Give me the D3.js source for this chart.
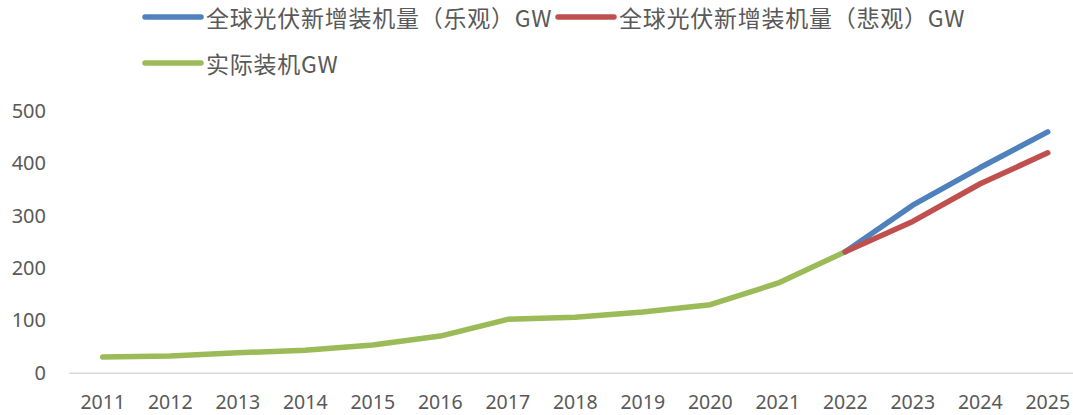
<!DOCTYPE html>
<html>
<head>
<meta charset="utf-8">
<script src="https://cdn.jsdelivr.net/npm/d3@7/dist/d3.min.js"></script>
<style>
html,body{margin:0;padding:0;background:#fff;overflow:hidden;}
svg{display:block;font-family:"Noto Sans CJK SC","Noto Sans",sans-serif;}
</style>
</head>
<body>
<svg id="chart" width="1073" height="415"></svg>
<script>
const years = ["2011","2012","2013","2014","2015","2016","2017","2018","2019","2020","2021","2022","2023","2024","2025"];
const actualYears = ["2011","2012","2013","2014","2015","2016","2017","2018","2019","2020","2021","2022"];
const actualValues = [30,32,38,43,53,70,102,106,116,130,171,231];
const forecastYears = ["2022","2023","2024","2025"];
const optimisticValues = [231,320,392,460];
const pessimisticValues = [231,289,361,420];
const yTicks = [0,100,200,300,400,500];
const seriesNames = ["全球光伏新增装机量（乐观）GW","全球光伏新增装机量（悲观）GW","实际装机GW"];
const colors = ["#4f81bd","#c0504d","#9bbb59"];

const svg = d3.select("#chart");
const x = d3.scaleBand().domain(years).range([69, 1081.5]);
const cx = d => x(d) + x.bandwidth()/2;
const y = d3.scaleLinear().domain([0,500]).range([372.7, 111]);

// y axis labels
const yAxis = d3.axisLeft(y).tickValues(yTicks).tickSize(0).tickPadding(0);
const gy = svg.append("g").attr("transform","translate(46,0)").call(yAxis);
gy.select(".domain").remove();
gy.selectAll("text").attr("fill","#595959").style("font-size","20px").style("font-family","'Noto Sans','Noto Sans CJK SC',sans-serif");

// x axis
const xAxis = d3.axisBottom(x).tickSize(0).tickPadding(0);
const gx = svg.append("g").attr("transform","translate(0,"+y(0)+")").call(xAxis);
gx.select(".domain").attr("stroke","#d9d9d9").attr("stroke-width",1.5);
gx.selectAll("text").attr("fill","#595959").attr("dy","0").attr("y",36.8).style("font-size","19.5px").style("font-family","'Noto Sans','Noto Sans CJK SC',sans-serif");

const line = d3.line().x(d=>cx(d[0])).y(d=>y(d[1]));
function draw(ys, vs, color){
  svg.append("path").datum(ys.map((yr,i)=>[yr,vs[i]]))
    .attr("d", line).attr("fill","none").attr("stroke",color)
    .attr("stroke-width",5.5).attr("stroke-linecap","round").attr("stroke-linejoin","round");
}
draw(actualYears, actualValues, colors[2]);
draw(forecastYears, optimisticValues, colors[0]);
draw(forecastYears, pessimisticValues, colors[1]);

// legend
const legendItems = [
  {name:seriesNames[0], color:colors[0], x:145, y:17},
  {name:seriesNames[1], color:colors[1], x:558, y:17},
  {name:seriesNames[2], color:colors[2], x:145, y:63}
];
const lg = svg.append("g");
legendItems.forEach(it=>{
  lg.append("line").attr("x1",it.x).attr("x2",it.x+56).attr("y1",it.y).attr("y2",it.y)
    .attr("stroke",it.color).attr("stroke-width",5.5).attr("stroke-linecap","round");
  lg.append("text").attr("x",it.x+61).attr("y",it.y).attr("dominant-baseline","central")
    .attr("fill","#595959").style("font-size","23px").style("letter-spacing","0.75px").text(it.name);
});
</script>
</body>
</html>
